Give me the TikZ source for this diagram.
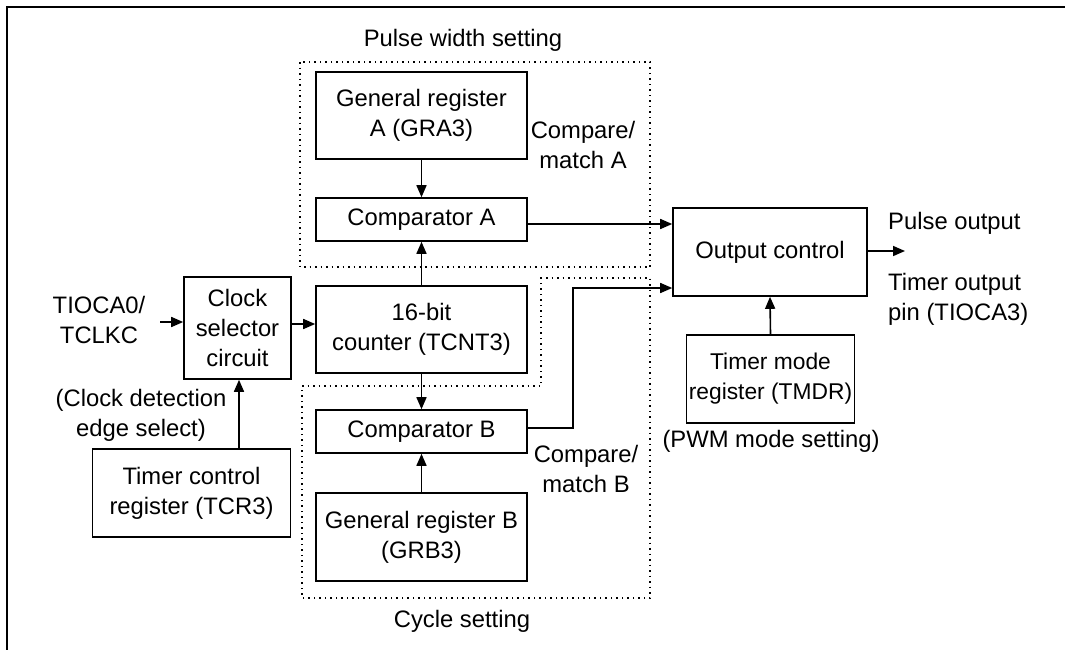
\documentclass[tikz,border=0pt]{standalone}
\usepackage{fontspec}
\setmainfont{Liberation Sans}
\usetikzlibrary{arrows.meta}
\begin{document}
\begin{tikzpicture}[x=1pt,y=-1pt,
  every node/.style={font=\fontsize{23.8}{30}\selectfont, align=center, inner sep=0pt},
  blk/.style={draw, line width=1.6pt, fill=white},
  con/.style={line width=1.6pt, -{Triangle[length=12pt,width=10pt]}},
  dotbox/.style={line width=1.5pt, dash pattern=on 1.5pt off 4pt}]
\useasboundingbox (0,0) rectangle (1065,649);
% outer frame
\draw[line width=2.6pt] (1075,7) -- (7,7) -- (7,660);
% dotted groups
\draw[dotbox] (300,62) rectangle (650,267);
\draw[dotbox] (302,386) -- (541,386) -- (541,278) -- (650,278) -- (650,598) -- (302,598) -- cycle;
% blocks
\node[blk, minimum width=211pt, minimum height=87pt] (gra) at (421.5,115.5) {General register\\A (GRA3)};
\node[blk, minimum width=211pt, minimum height=43pt] (cmpa) at (421.5,219.5) {Comparator A};
\node[blk, minimum width=211pt, minimum height=87pt] (cnt) at (421.5,329.5) {16-bit\\counter (TCNT3)};
\node[blk, minimum width=211pt, minimum height=43pt] (cmpb) at (421.5,431.5) {Comparator B};
\node[blk, minimum width=211pt, minimum height=88pt] (grb) at (421.5,537) {General register B\\(GRB3)};
\node[blk, minimum width=107pt, minimum height=102pt] (clk) at (237.5,328) {Clock\\selector\\circuit};
\node[blk, minimum width=198pt, minimum height=88pt] (tcr) at (191.5,493) {Timer control\\register (TCR3)};
\node[blk, minimum width=194pt, minimum height=88pt] (out) at (770,252) {Output control};
\node[blk, minimum width=168pt, minimum height=88pt, font=\fontsize{22.8}{30}\selectfont] (tmdr) at (770.5,379) {Timer mode\\register (TMDR)};
% labels
\node (pws) at (463,40) {Pulse width setting};
\node (cys) at (462,621) {Cycle setting};
\node (cma) at (583,145) {Compare/\\match A};
\node (cmb) at (586,469) {Compare/\\match B};
\node (tio) at (99,320) {TIOCA0/\\TCLKC};
\node (ced) at (141,415) {(Clock detection\\edge select)};
\node[anchor=west] (pout) at (888,223) {Pulse output};
\node[anchor=west, align=left] (tpin) at (888,299) {Timer output\\pin (TIOCA3)};
\node (pwm) at (771,441) {(PWM mode setting)};
% free ends
\coordinate (inp) at (160,322);
\coordinate (outp) at (905,251);
% connectors
\draw[con] (gra.south) -- (cmpa.north);
\draw[con] (cnt.north) -- (cmpa.south);
\draw[con] (cnt.south) -- (cmpb.north);
\draw[con] (grb.north) -- (cmpb.south);
\draw[con] (inp) -- (inp -| clk.west);
\draw[con] (clk.east |- 0,324) -- (cnt.west |- 0,324);
\draw[con] (tcr.north -| 239,0) -- (clk.south -| 239,0);
\draw[con] (tmdr.north) -- (out.south);
\draw[con] (cmpa.east |- 0,224) -- (out.west |- 0,224);
\draw[con] (cmpb.east |- 0,428) -- (573,428) -- (573,288) -- (out.west |- 0,288);
\draw[con] (out.east |- outp) -- (outp);
\end{tikzpicture}
\end{document}
